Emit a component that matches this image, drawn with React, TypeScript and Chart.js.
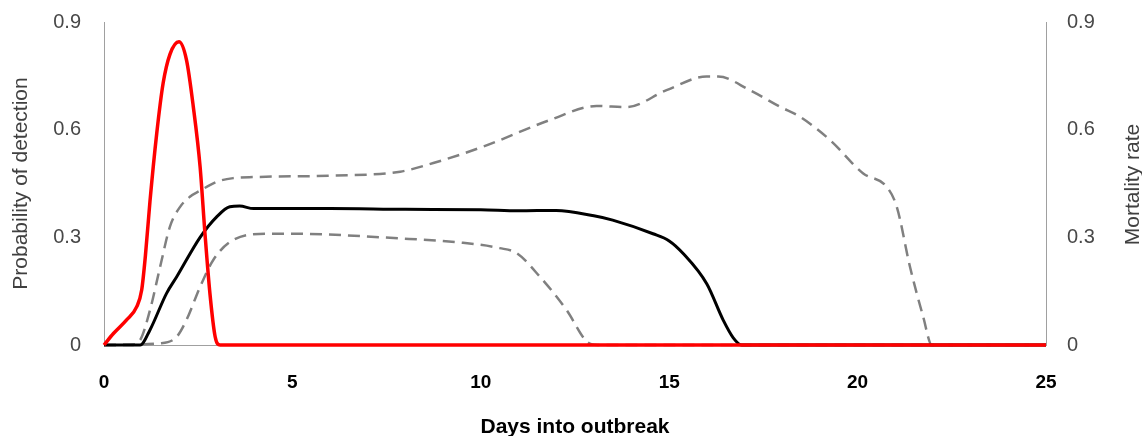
import React, { useEffect, useRef } from "react";
import { Chart, registerables } from "chart.js";

Chart.register(...registerables);

// Days into outbreak (x) and values (y)
const mortalityX = [0, 0.25, 0.6, 0.87, 1.0, 1.1, 1.22, 1.4, 1.57, 1.75, 1.99, 2.19, 2.37, 2.55, 2.68, 2.81, 2.95, 3.08, 25];
const mortalityY = [0, 0.032, 0.07, 0.107, 0.153, 0.25, 0.4, 0.59, 0.73, 0.81, 0.845, 0.794, 0.664, 0.497, 0.31, 0.145, 0.023, 0, 0];

const detectX = [0, 0.96, 1.22, 1.66, 1.93, 2.55, 2.99, 3.34, 3.6, 3.97, 6, 8, 10, 11, 12, 13, 13.5, 14.57, 15.0, 15.37, 16.0, 16.43, 16.7, 16.92, 25];
const detectY = [0, 0, 0.042, 0.144, 0.19, 0.3, 0.357, 0.385, 0.387, 0.38, 0.38, 0.378, 0.377, 0.374, 0.375, 0.36, 0.348, 0.31, 0.29, 0.255, 0.17, 0.07, 0.02, 0, 0];

const upperX = [0, 0.7, 0.96, 1.22, 1.49, 1.75, 2.02, 2.28, 2.55, 3.0, 3.43, 4, 6, 7.86, 8.74, 10.07, 11.84, 13.07, 13.87, 14.93, 15.99, 16.3, 17.14, 17.94, 18.47, 19.27, 20.15, 20.77, 21.04, 21.39, 21.74, 21.97, 25];
const upperY = [0, 0, 0.014, 0.097, 0.218, 0.33, 0.385, 0.413, 0.43, 0.455, 0.465, 0.468, 0.472, 0.483, 0.507, 0.553, 0.627, 0.666, 0.663, 0.71, 0.748, 0.748, 0.71, 0.664, 0.636, 0.571, 0.478, 0.441, 0.385, 0.218, 0.079, 0, 0];

const lowerX = [0, 1.5, 1.93, 2.19, 2.55, 2.9, 3.43, 4.32, 5, 7.86, 9.5, 10.5, 10.95, 11.57, 12.28, 12.81, 13.1, 25];
const lowerY = [0, 0.005, 0.023, 0.07, 0.162, 0.237, 0.293, 0.31, 0.31, 0.297, 0.285, 0.27, 0.256, 0.19, 0.097, 0.01, 0, 0];

const yTicks = [0, 0.3, 0.6, 0.9];
const xTicks = [0, 5, 10, 15, 20, 25];

const X_TITLE = "Days into outbreak";
const LEFT_TITLE = "Probability of detection";
const RIGHT_TITLE = "Mortality rate";

const FONT = '"Liberation Sans", Arial, sans-serif';

const pts = (xs: number[], ys: number[]) => xs.map((x, i) => ({ x, y: ys[i] }));

const rightTitlePlugin = {
  id: "rightTitle",
  afterDraw(chart: any) {
    const { ctx, chartArea } = chart;
    const s = chart.scales.y1;
    ctx.save();
    ctx.translate(s.right - 9, (chartArea.top + chartArea.bottom) / 2 + 1);
    ctx.rotate(-Math.PI / 2);
    ctx.font = `21px ${FONT}`;
    ctx.fillStyle = "#404040";
    ctx.textAlign = "center";
    ctx.textBaseline = "middle";
    ctx.fillText(RIGHT_TITLE, 0, 0);
    ctx.restore();
  },
};

const fitY = (w: number) => (s: any) => {
  s.width = w;
  s.paddingTop = 0;
  s.paddingBottom = 0;
};

export default function App() {
  const ref = useRef<HTMLCanvasElement>(null);
  useEffect(() => {
    if (!ref.current) return;
    const chart = new Chart(ref.current, {
      type: "line",
      data: {
        datasets: [
          {
            label: "Mortality rate",
            data: pts(mortalityX, mortalityY),
            yAxisID: "y1",
            borderColor: "#ff0000",
            borderWidth: 3.5,
            pointRadius: 0,
            clip: 6,
            cubicInterpolationMode: "monotone",
          },
          {
            label: "Probability of detection",
            data: pts(detectX, detectY),
            yAxisID: "y",
            borderColor: "#000000",
            borderWidth: 3,
            pointRadius: 0,
            clip: 6,
            cubicInterpolationMode: "monotone",
          },
          {
            label: "Upper",
            data: pts(upperX, upperY),
            yAxisID: "y",
            borderColor: "#808080",
            borderWidth: 2.5,
            borderDash: [12, 7],
            pointRadius: 0,
            clip: 6,
            cubicInterpolationMode: "monotone",
          },
          {
            label: "Lower",
            data: pts(lowerX, lowerY),
            yAxisID: "y",
            borderColor: "#808080",
            borderWidth: 2.5,
            borderDash: [12, 7],
            pointRadius: 0,
            clip: 6,
            cubicInterpolationMode: "monotone",
          },
        ],
      },
      options: {
        animation: false,
        responsive: false,
        layout: { padding: { top: 22, left: 0, right: 0, bottom: 0 } },
        plugins: { legend: { display: false }, tooltip: { enabled: false } },
        scales: {
          x: {
            type: "linear",
            min: 0,
            max: 25,
            afterBuildTicks: (s: any) => {
              s.ticks = xTicks.map((v) => ({ value: v }));
            },
            afterFit: (s: any) => {
              s.height = 91;
              s.paddingLeft = 0;
              s.paddingRight = 0;
            },
            grid: { display: false, drawTicks: false },
            border: { display: true, color: "#a0a0a0", width: 1 },
            ticks: {
              padding: 26,
              color: "#000000",
              font: { family: FONT, size: 19, weight: "bold" },
              maxRotation: 0,
            },
            title: {
              display: true,
              text: X_TITLE,
              color: "#000000",
              font: { family: FONT, size: 21, weight: "bold", lineHeight: 0.8 },
              padding: { top: 0, bottom: 0 },
            },
          },
          y: {
            position: "left",
            min: 0,
            max: 0.9,
            afterBuildTicks: (s: any) => {
              s.ticks = yTicks.map((v) => ({ value: v }));
            },
            afterFit: fitY(104),
            grid: { display: false, drawTicks: false },
            border: { display: true, color: "#a0a0a0", width: 1 },
            ticks: {
              padding: 23,
              color: "#484848",
              font: { family: FONT, size: 20 },
              callback: (v: any) => String(v),
            },
            title: {
              display: true,
              text: LEFT_TITLE,
              color: "#404040",
              font: { family: FONT, size: 21, lineHeight: 1.2 },
              padding: { top: 9, bottom: 0 },
            },
          },
          y1: {
            position: "right",
            min: 0,
            max: 0.9,
            afterBuildTicks: (s: any) => {
              s.ticks = yTicks.map((v) => ({ value: v }));
            },
            afterFit: fitY(96),
            grid: { display: false, drawTicks: false },
            border: { display: true, color: "#a0a0a0", width: 1 },
            ticks: {
              padding: 21,
              color: "#484848",
              font: { family: FONT, size: 20 },
              callback: (v: any) => String(v),
            },
            title: { display: false },
          },
        },
      },
      plugins: [rightTitlePlugin],
    } as any);
    return () => chart.destroy();
  }, []);
  return (
    <div style={{ position: "absolute", left: 0, top: 0, width: 1142, height: 436, background: "#fff" }}>
      <canvas ref={ref} width={1142} height={436} />
    </div>
  );
}
